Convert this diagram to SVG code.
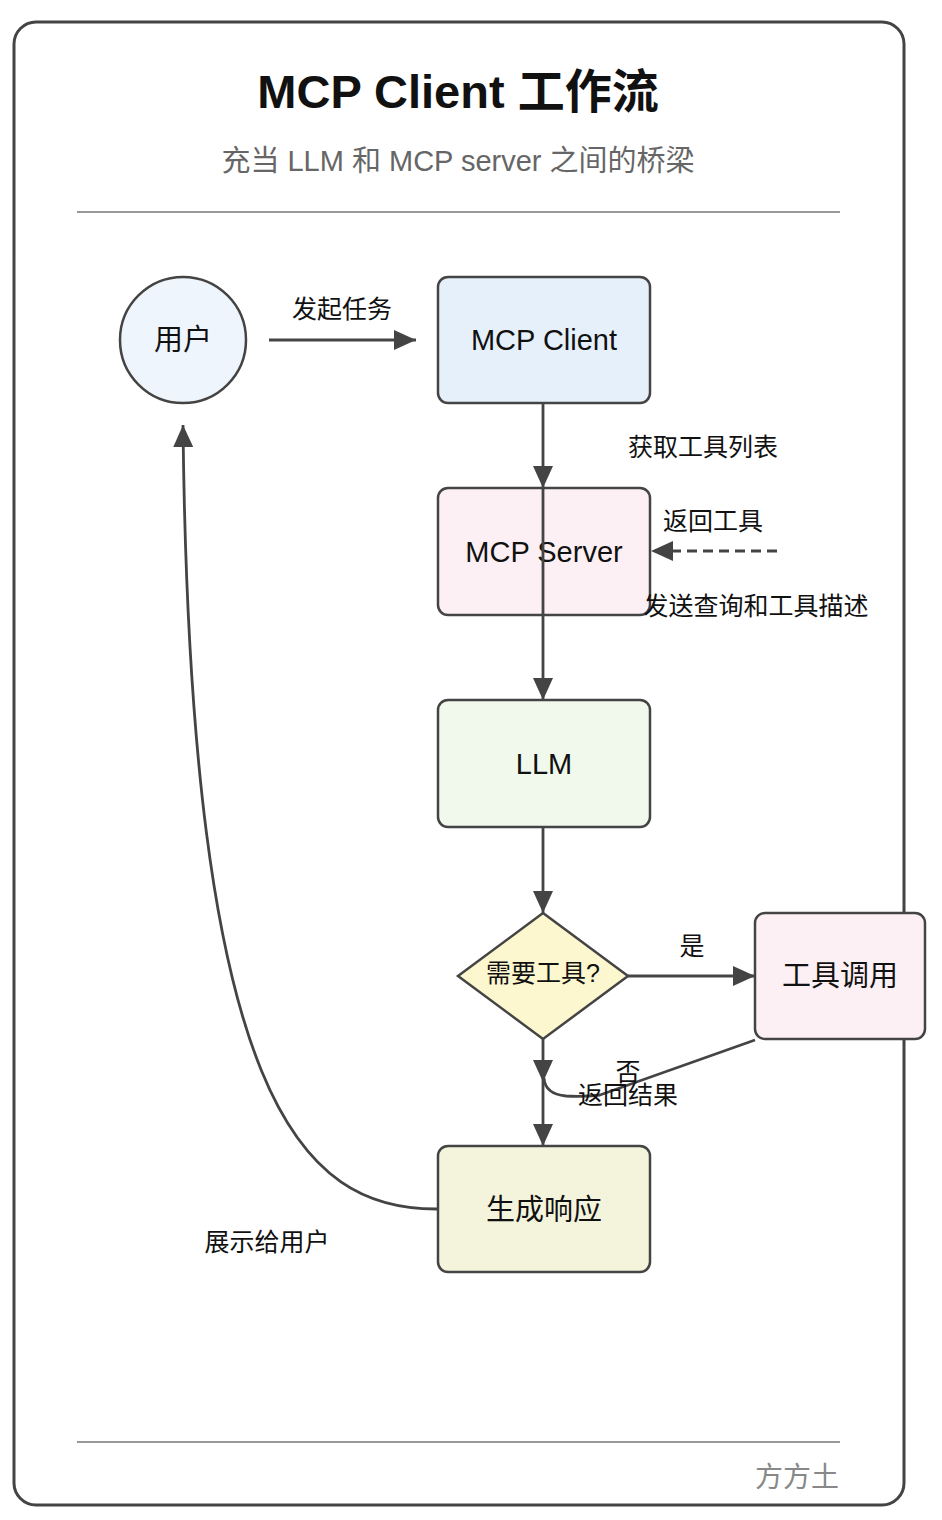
<svg xmlns="http://www.w3.org/2000/svg" width="942" height="1520" viewBox="0 0 942 1520">
<style>
text{font-family:"Liberation Sans","Noto Sans CJK SC",sans-serif;fill:#111}
.node{stroke:#444;stroke-width:2.5}
.nt{font-size:29px;text-anchor:middle;dominant-baseline:central}
.lbl{font-size:25px;text-anchor:middle}
.c{fill:none;stroke:#444;stroke-width:2.8}
</style>
<defs>
<marker id="ah" viewBox="0 0 22 20" refX="22" refY="10" markerWidth="22" markerHeight="20" markerUnits="userSpaceOnUse" orient="auto">
<path d="M0 0 L22 10 L0 20 Z" fill="#444"/>
</marker>
</defs>
<rect x="0" y="0" width="942" height="1520" fill="#fff"/>
<g id="frame">
<rect x="14" y="22" width="890" height="1483" rx="22" fill="#fff" stroke="#444" stroke-width="3"/>
<text x="458" y="108" font-size="47" font-weight="bold" text-anchor="middle">MCP Client 工作流</text>
<text x="458" y="171" font-size="29" text-anchor="middle" style="fill:#666">充当 LLM 和 MCP server 之间的桥梁</text>
<line x1="77" y1="212" x2="840" y2="212" stroke="#999" stroke-width="2"/>
<line x1="77" y1="1442" x2="840" y2="1442" stroke="#999" stroke-width="2"/>
<text x="839" y="1487" font-size="28" text-anchor="end" style="fill:#888">方方土</text>
</g>
<g id="user"><circle class="node" cx="183" cy="340" r="63" fill="#eff5fc"/><text class="nt" x="183" y="340">用户</text></g>
<g id="client"><rect class="node" x="438" y="277" width="212" height="126" rx="10" fill="#e6f0fb"/><text class="nt" x="544" y="340">MCP Client</text></g>
<g id="server"><rect class="node" x="438" y="488" width="212" height="127" rx="10" fill="#fcf0f4"/><text class="nt" x="544" y="552">MCP Server</text></g>
<g id="llm"><rect class="node" x="438" y="700" width="212" height="127" rx="10" fill="#f1f9ed"/><text class="nt" x="544" y="764">LLM</text></g>
<g id="decision"><path class="node" d="M543 913 L628 976 L543 1039 L458 976 Z" fill="#fdf7cf"/><text class="nt" x="543" y="973" style="font-size:25px">需要工具?</text></g>
<g id="toolcall"><rect class="node" x="755" y="913" width="170" height="126" rx="10" fill="#fcf0f4"/><text class="nt" x="840" y="976">工具调用</text></g>
<g id="respond"><rect class="node" x="438" y="1146" width="212" height="126" rx="10" fill="#f4f4dd"/><text class="nt" x="544" y="1210">生成响应</text></g>
<g id="connectors">
<line class="c" x1="269" y1="340" x2="416" y2="340" marker-end="url(#ah)"/>
<line class="c" x1="543" y1="403" x2="543" y2="488" marker-end="url(#ah)"/>
<line class="c" x1="543" y1="488" x2="543" y2="700" marker-end="url(#ah)"/>
<line class="c" x1="777" y1="551" x2="651" y2="551" stroke-dasharray="10 6" marker-end="url(#ah)"/>
<line class="c" x1="543" y1="827" x2="543" y2="913" marker-end="url(#ah)"/>
<line class="c" x1="628" y1="976" x2="755" y2="976" marker-end="url(#ah)"/>
<line class="c" x1="543" y1="1039" x2="543" y2="1082" marker-end="url(#ah)"/>
<line class="c" x1="543" y1="1082" x2="543" y2="1146" marker-end="url(#ah)"/>
<path class="c" d="M755 1040 L600 1095 Q582 1097 566 1096 Q545 1094 544 1078"/>
<path class="c" d="M438 1209 C300 1210 190 1100 183 425" marker-end="url(#ah)"/>
<text class="lbl" x="342" y="318">发起任务</text>
<text class="lbl" x="703" y="456">获取工具列表</text>
<text class="lbl" x="713" y="530">返回工具</text>
<text class="lbl" x="756" y="615">发送查询和工具描述</text>
<text class="lbl" x="692" y="955">是</text>
<text class="lbl" x="628" y="1081">否</text>
<text class="lbl" x="628" y="1104">返回结果</text>
<text class="lbl" x="267" y="1251">展示给用户</text>
</g>
</svg>
